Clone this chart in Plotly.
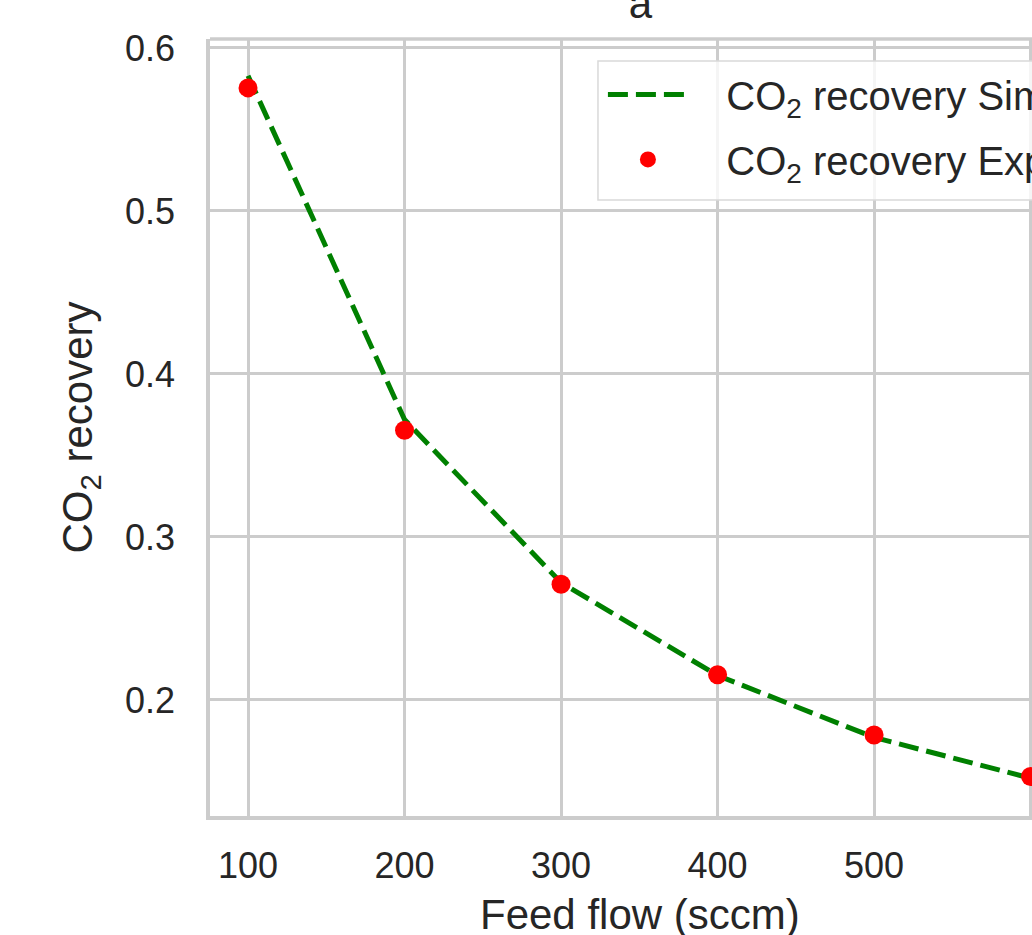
import plotly.graph_objects as go

feed_flow = [100, 200, 300, 400, 500, 600]
recovery_sim = [0.583, 0.372, 0.272, 0.215, 0.177, 0.152]
recovery_exp = [0.5755, 0.3655, 0.271, 0.2155, 0.1785, 0.153]

x_ticks = [100, 200, 300, 400, 500, 600]
y_ticks = [0.2, 0.3, 0.4, 0.5, 0.6]

FONT = "Liberation Sans, Arial, sans-serif"
GRID = "#cccccc"
TXT = "#262626"
PAD = "\u00a0\u00a0\u00a0"

fig = go.Figure()
fig.add_trace(go.Scatter(
    x=feed_flow, y=recovery_sim, mode="lines",
    name=PAD + "CO<sub>2</sub> recovery Simulation",
    line=dict(color="#008000", width=5, dash="20px,8px"),
    legendgroup="a",
))
fig.add_trace(go.Scatter(
    x=feed_flow, y=recovery_exp, mode="markers",
    name=PAD + "CO<sub>2</sub> recovery Experiment",
    marker=dict(color="#ff0000", size=19, line=dict(width=0)),
    legendgroup="b",
))

fig.update_layout(
    width=1032, height=935,
    margin=dict(l=210, r=0, t=39, b=119, autoexpand=False),
    paper_bgcolor="white", plot_bgcolor="white",
    font=dict(family=FONT, size=36, color=TXT),
    title=dict(text="a", x=0.5235, xref="paper", xanchor="center",
               y=0.981, yref="container", yanchor="bottom",
               font=dict(size=42, color=TXT)),
    showlegend=True,
    legend=dict(x=0.478, y=0.9705, xanchor="left", yanchor="top",
                bgcolor="rgba(0,0,0,0)", borderwidth=0,
                font=dict(size=40, color=TXT),
                itemwidth=80, tracegroupgap=10),
    xaxis=dict(range=[75.7, 600.9], tickvals=x_ticks,
               showgrid=True, gridcolor=GRID, gridwidth=2.5,
               zeroline=False, showline=True, linecolor=GRID, linewidth=3.5,
               ticks="", ticklabelstandoff=15,
               tickfont=dict(size=36, color=TXT)),
    yaxis=dict(range=[0.1288, 0.6055], tickvals=y_ticks, tickformat=".1f",
               showgrid=True, gridcolor=GRID, gridwidth=2.5,
               zeroline=False, showline=True, linecolor=GRID, linewidth=3.5,
               ticks="", ticklabelstandoff=24,
               tickfont=dict(size=36, color=TXT),
               title=dict(text="CO<sub>2</sub> recovery", standoff=20,
                          font=dict(size=42, color=TXT))),
    annotations=[dict(text="Feed flow (sccm)", xref="paper", yref="paper",
                      x=0.5235, y=-0.094, xanchor="center", yanchor="top",
                      showarrow=False, font=dict(size=42, color=TXT))],
    shapes=[
        dict(type="line", xref="paper", yref="paper", x0=0, x1=1, y0=1, y1=1,
             line=dict(color=GRID, width=3.5), layer="below"),
        dict(type="rect", xref="paper", yref="paper", x0=0.472, x1=1.05,
             y0=0.7928, y1=0.9717, fillcolor="rgba(255,255,255,0.8)",
             line=dict(color="#d9d9d9", width=1.5), layer="above"),
    ],
)

fig.write_html(
    "out.html",
    config={"displayModeBar": False},
    post_script="document.body.style.margin='0';document.documentElement.style.overflow='hidden';document.body.style.overflow='hidden';",
)
